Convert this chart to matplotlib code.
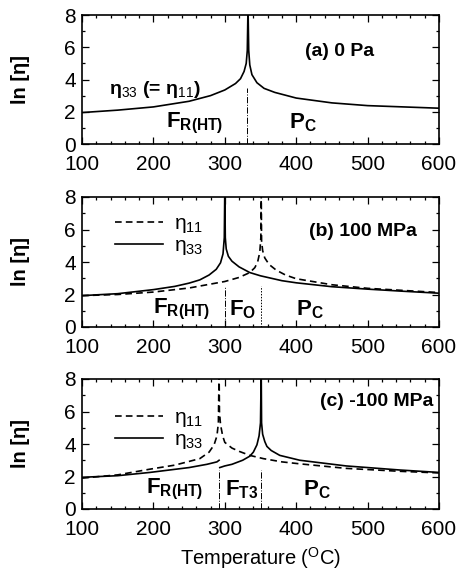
import numpy as np
import matplotlib
matplotlib.use('Agg')
import matplotlib.pyplot as plt
from matplotlib.ticker import MultipleLocator

plt.rcParams['font.family'] = ['Liberation Sans', 'DejaVu Sans']
plt.rcParams['mathtext.fontset'] = 'custom'
plt.rcParams['mathtext.rm'] = 'Liberation Sans'
plt.rcParams['mathtext.bf'] = 'Liberation Sans:bold'
plt.rcParams['mathtext.it'] = 'Liberation Sans:italic'

# ---- data (T in degC, ln eta) ----
# (a) 0 Pa, eta33 (= eta11)
a_T33 = [100, 150, 200, 250, 280, 300, 315, 322, 327, 330, 331.5, 332.5,
         332.5, 333.5, 335, 338, 345, 355, 370, 400, 450, 500, 550, 600]
a_v33 = [1.95, 2.1, 2.3, 2.65, 3.0, 3.35, 3.75, 4.05, 4.5, 5.0, 5.8, 8.5,
         8.5, 5.8, 4.9, 4.3, 3.8, 3.45, 3.2, 2.85, 2.55, 2.38, 2.3, 2.22]
a_tc = [331]

# (b) 100 MPa
b_T33 = [100, 150, 200, 230, 250, 265, 278, 288, 294, 297.5, 299.3, 300,
         300, 300.7, 302, 305, 310, 320, 335, 350, 380, 400, 450, 500, 550, 600]
b_v33 = [1.93, 2.05, 2.3, 2.5, 2.7, 2.9, 3.2, 3.55, 3.95, 4.5, 5.5, 8.5,
         8.5, 5.5, 4.8, 4.35, 4.05, 3.7, 3.35, 3.15, 2.85, 2.72, 2.48, 2.33, 2.2, 2.08]
b_T11 = [100, 150, 200, 250, 300, 320, 335, 342, 346, 349, 350.5, 351,
         351, 351.5, 353, 356, 362, 372, 385, 400, 450, 500, 550, 600]
b_v11 = [1.93, 2.0, 2.15, 2.4, 2.8, 3.05, 3.35, 3.65, 4.0, 4.6, 5.5, 8.5,
         8.5, 5.3, 4.7, 4.25, 3.85, 3.5, 3.2, 2.97, 2.6, 2.38, 2.25, 2.12]
b_tc = [300, 350]

# (c) -100 MPa
c_T33_lo = [100, 150, 195, 250, 275, 289, 292]
c_v33_lo = [1.95, 2.05, 2.25, 2.55, 2.75, 2.9, 3.0]
c_T33_hi = [293, 300, 310, 325, 335, 340, 345, 348, 350, 351,
            351, 351.5, 353, 356, 359, 365, 377, 405, 470, 545, 600]
c_v33_hi = [2.55, 2.65, 2.75, 3.0, 3.25, 3.5, 3.95, 4.5, 5.3, 8.5,
            8.5, 5.3, 4.6, 4.15, 3.85, 3.6, 3.3, 3.0, 2.65, 2.4, 2.25]
c_T11 = [100, 150, 195, 230, 265, 278, 285, 289, 291, 292,
         292, 292.5, 294, 297, 300, 310, 320, 335, 354, 380, 405, 470, 545, 600]
c_v11 = [1.9, 2.1, 2.45, 2.7, 3.1, 3.5, 3.95, 4.5, 5.3, 8.5,
         8.5, 6.0, 5.2, 4.5, 4.1, 3.75, 3.55, 3.3, 3.1, 2.9, 2.78, 2.5, 2.32, 2.22]
c_tc = [292, 350]

fig = plt.figure(figsize=(4.61, 5.8), dpi=100)
W, H = 461, 580
boxes = [(82, 15, 144), (82, 197, 327), (82, 379, 509)]
axes = []
for x0, top, bot in boxes:
    ax = fig.add_axes([x0 / W, 1 - bot / H, 357 / W, (bot - top) / H])
    axes.append(ax)

for ax in axes:
    ax.set_xlim(100, 600)
    ax.set_ylim(0, 8)
    ax.xaxis.set_major_locator(MultipleLocator(100))
    ax.xaxis.set_minor_locator(MultipleLocator(20))
    ax.yaxis.set_major_locator(MultipleLocator(2))
    ax.yaxis.set_minor_locator(MultipleLocator(1))
    ax.tick_params(which='both', direction='in', top=True, right=True,
                   labelsize=15, width=0.9)
    ax.tick_params(axis='x', which='major', length=5, pad=8)
    ax.tick_params(axis='y', which='major', length=5, pad=4.5)
    ax.tick_params(which='minor', length=2.5)
    for s in ax.spines.values():
        s.set_linewidth(1.2)
    ax.set_ylabel('ln [η]', fontsize=14.5, fontweight='bold')
    ax.yaxis.set_label_coords(-0.145, 0.5)

tk = dict(fontsize=14, fontweight='bold', ha='center', va='center')
lk = dict(color='black', lw=1.2, clip_on=True)
lg = dict(loc='upper left', frameon=False, handlelength=2.3, fontsize=15,
          labelspacing=0.05, handletextpad=0.5, borderaxespad=0)

# (a)
ax = axes[0]
ax.plot(a_T33, a_v33, **lk)
ax.plot([a_tc[0]] * 2, [0, 3.5], color='black', lw=0.7, ls='-.')
ax.text(461, 5.75, '(a) 0 Pa', **tk)
ax.text(202, 3.35, r'η$_{33}$ (= η$_{11}$)', fontsize=14, fontweight='bold',
        ha='center', va='center')
ax.text(258, 1.25, r'$\mathbf{F_{R(HT)}}$', fontsize=16, ha='center', va='center')
ax.text(410, 1.35, r'$\mathbf{P_{C}}$', fontsize=16, ha='center', va='center')

# (b)
ax = axes[1]
ax.plot(b_T11, b_v11, ls=(0, (4, 2.5)), label='η$_{11}$', **lk)
ax.plot(b_T33, b_v33, label='η$_{33}$', **lk)
ax.plot([b_tc[0]] * 2, [0, 2.5], color='black', lw=0.7, ls='-.')
ax.plot([b_tc[1]] * 2, [0, 2.5], color='black', lw=0.7, ls=(0, (1.5, 1.5)))
ax.text(494, 5.85, '(b) 100 MPa', **tk)
ax.text(240, 1.05, r'$\mathbf{F_{R(HT)}}$', fontsize=16, ha='center', va='center')
ax.text(325, 1.05, r'$\mathbf{F_{O}}$', fontsize=16, ha='center', va='center')
ax.text(419, 1.05, r'$\mathbf{P_{C}}$', fontsize=16, ha='center', va='center')
ax.legend(bbox_to_anchor=(0.07, 0.93), **lg)

# (c)
ax = axes[2]
ax.plot(c_T11, c_v11, ls=(0, (4, 2.5)), label='η$_{11}$', **lk)
ax.plot(c_T33_hi, c_v33_hi, label='η$_{33}$', **lk)
ax.plot(c_T33_lo, c_v33_lo, **lk)
ax.plot([c_tc[0]] * 2, [0, 2.4], color='black', lw=0.7, ls='-.')
ax.plot([c_tc[1]] * 2, [0, 2.4], color='black', lw=0.7, ls='-.')
ax.text(513, 6.6, '(c) -100 MPa', **tk)
ax.text(230, 1.2, r'$\mathbf{F_{R(HT)}}$', fontsize=16, ha='center', va='center')
ax.text(323, 1.2, r'$\mathbf{F_{T3}}$', fontsize=16, ha='center', va='center')
ax.text(429, 1.2, r'$\mathbf{P_{C}}$', fontsize=16, ha='center', va='center')
ax.legend(bbox_to_anchor=(0.07, 0.84), **lg)
ax.set_xlabel(r'Temperature ($^{\rm O}$C)', fontsize=14.5, labelpad=4)

fig.savefig('out.png', dpi=100)
